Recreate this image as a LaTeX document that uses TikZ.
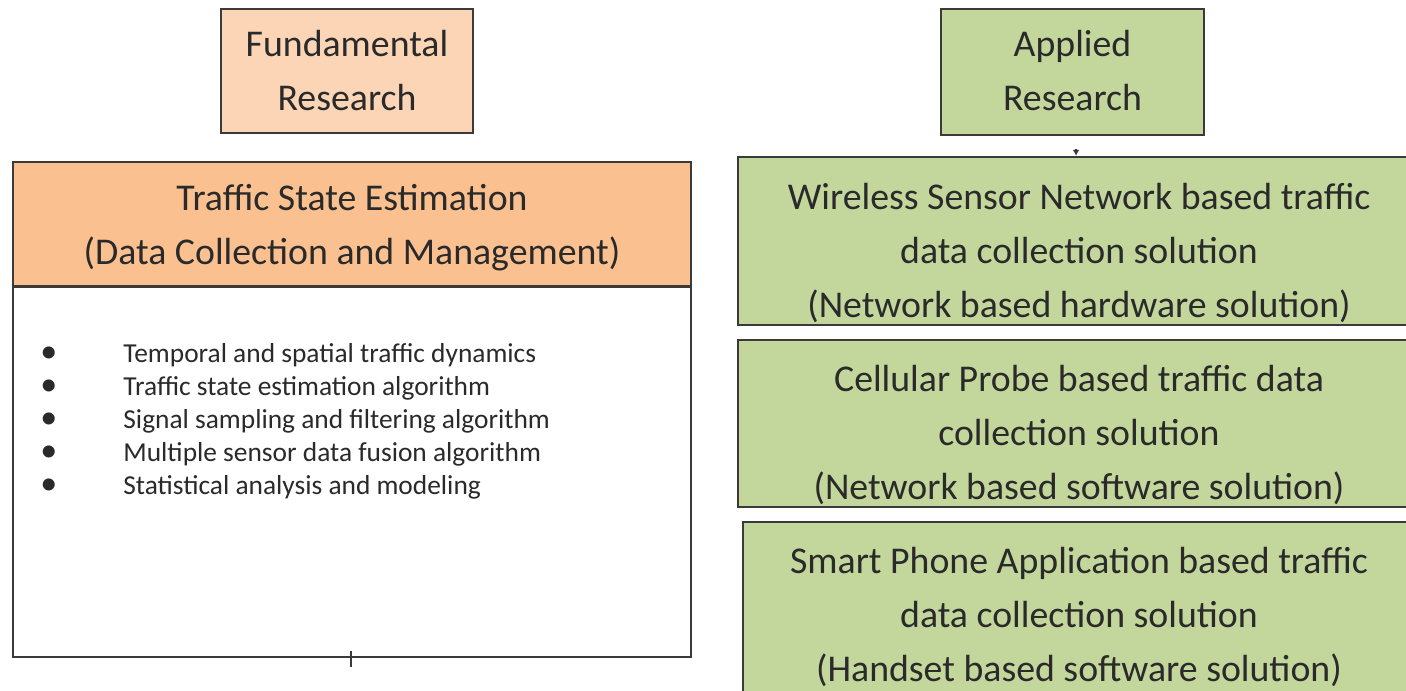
\documentclass[tikz,border=0pt]{standalone}
\usepackage{fontspec}
\setmainfont{Carlito}
\usetikzlibrary{arrows.meta}
\definecolor{peach}{HTML}{FBD5B5}
\definecolor{orng}{HTML}{FAC090}
\definecolor{grn}{HTML}{C3D69B}
\definecolor{edge}{HTML}{3A3A3A}
\definecolor{txt}{HTML}{2A2A2A}
\begin{document}
\begin{tikzpicture}[x=0.5pt,y=-0.5pt,
  box/.style={draw=edge, line width=1.2pt, inner sep=0pt},
  bigtext/.style={align=center, text=txt, inner sep=0pt, font=\fontsize{18.9}{27}\selectfont},
  listtext/.style={text=txt, inner sep=0pt, font=\fontsize{13.7}{16.5}\selectfont, anchor=base west},
  bullettext/.style={text=txt, inner sep=0pt, font=\fontsize{17}{16.5}\selectfont, anchor=base west},
]
\useasboundingbox (0,0) rectangle (1406,690);
\clip (0,0) rectangle (1406,690);
\fill[white] (0,0) rectangle (1406,690);

% left column
\node[box, fill=peach, minimum width=126pt, minimum height=62pt] (fund) at (347,71) {};
\node[bigtext] (fundt) at (347,71) {Fundamental\\Research};

\node[box, fill=orng, minimum width=339pt, minimum height=62pt] (tse) at (352,224) {};
\node[bigtext] (tset) at (352,228) {Traffic State Estimation\\(Data Collection and Management)};

\node[box, fill=white, minimum width=339pt, minimum height=185pt] (list) at (352,472) {};

\foreach \i/\t [count=\k from 0] in {1/Temporal and spatial traffic dynamics,
  2/Traffic state estimation algorithm,
  3/Signal sampling and filtering algorithm,
  4/Multiple sensor data fusion algorithm,
  5/Statistical analysis and modeling}{
  \node[bullettext] (b\i) at (40,362+33*\k) {\textbullet};
  \node[listtext] (t\i) at (123,362+33*\k) {\t};
}

\coordinate (tka) at (351,651);
\coordinate (tkb) at (351,667);
\draw[edge, line width=1pt] (tka) -- (tkb);

% right column
\node[box, fill=grn, minimum width=131.5pt, minimum height=63pt] (app) at (1072.5,72) {};
\node[bigtext] (appt) at (1072.5,71) {Applied\\Research};

\node[box, fill=grn, minimum width=336pt, minimum height=84pt] (wsn) at (1074,241) {};
\node[bigtext] (wsnt) at (1079,253) {Wireless Sensor Network based traffic\\data collection solution\\(Network based hardware solution)};

\node[box, fill=grn, minimum width=336pt, minimum height=83.5pt] (cell) at (1074,423.5) {};
\node[bigtext] (cellt) at (1079,435) {Cellular Probe based traffic data\\collection solution\\(Network based software solution)};

\node[box, fill=grn, minimum width=333.5pt, minimum height=92pt] (smart) at (1076.5,614) {};
\node[bigtext] (smartt) at (1079,617) {Smart Phone Application based traffic\\data collection solution\\(Handset based software solution)};

\coordinate (ara) at (1076,149);
\draw[edge, line width=0.8pt, -{Latex[length=3pt,width=3.5pt]}] (ara) -- (ara |- wsn.north);
\end{tikzpicture}
\end{document}
